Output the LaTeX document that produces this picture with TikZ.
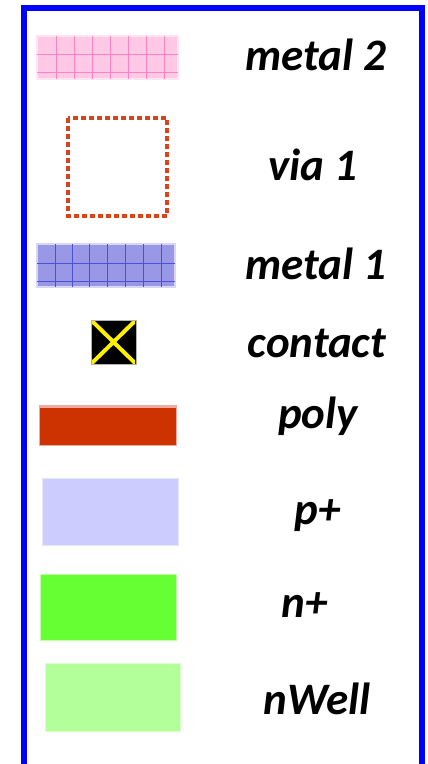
\documentclass[tikz,border=0pt]{standalone}
\usepackage{fontspec}
\setmainfont{Carlito}
\begin{document}
\begin{tikzpicture}[x=1pt,y=-1pt,
  lbl/.style={font=\fontsize{45}{45}\selectfont\bfseries\itshape, anchor=base, inner sep=0pt, text=black},
  frame/.style={draw=blue, line width=6pt}]
\definecolor{mtwofill}{RGB}{255,200,228}
\definecolor{mtwoline}{RGB}{255,130,195}
\definecolor{mtwoedge}{RGB}{255,228,242}
\definecolor{viacol}{RGB}{214,68,24}
\definecolor{mtonefill}{RGB}{152,152,230}
\definecolor{mtoneline}{RGB}{80,80,215}
\definecolor{mtoneedge}{RGB}{215,215,245}
\definecolor{polycol}{RGB}{204,51,0}
\definecolor{polyedge}{RGB}{236,170,160}
\definecolor{pplus}{RGB}{204,204,255}
\definecolor{nplus}{RGB}{102,255,51}
\definecolor{nwell}{RGB}{179,255,153}
\definecolor{yel}{RGB}{255,240,0}
\useasboundingbox (0,0) rectangle (428,764);
% frame (open at bottom)
\draw[frame] (24,764) -- (24,8) -- (422,8) -- (422,764);
% metal 2
\fill[mtwofill, draw=mtwoedge, line width=1.5pt] (37,36) rectangle (178,79);
\begin{scope}
\clip (37,36) rectangle (178,79);
\foreach \x in {56,74,92,110,128,146,164} \draw[mtwoline, line width=1pt] (\x,36) -- (\x,79);
\foreach \y in {54,72} \draw[mtwoline, line width=1pt] (37,\y) -- (178,\y);
\end{scope}
\node[lbl] (m2) at (316,70) {metal 2};
% via 1
\draw[viacol, line width=3.5pt, dash pattern=on 5pt off 3pt] (68,118) rectangle (167,216);
\node[lbl] (v1) at (313,180) {via 1};
% metal 1
\fill[mtonefill, draw=mtoneedge, line width=1.5pt] (37,244) rectangle (175,287);
\begin{scope}
\clip (37,244) rectangle (175,287);
\foreach \x in {55,72,89,107,125,143,161} \draw[mtoneline, line width=1pt] (\x,244) -- (\x,287);
\foreach \y in {263,281} \draw[mtoneline, line width=1pt] (37,\y) -- (175,\y);
\end{scope}
\node[lbl] (m1) at (316,279) {metal 1};
% contact
\fill[black, draw=gray!60, line width=1pt] (91,320) rectangle (136,364);
\begin{scope}
\clip (92,321) rectangle (135,363);
\draw[yel, line width=4pt] (91,320) -- (136,364) (136,320) -- (91,364);
\end{scope}
\node[lbl] (ct) at (317,357) {contact};
% poly
\fill[polyedge] (39,405) rectangle (177,446);
\fill[polycol] (40,408) rectangle (176,445);
\node[lbl] (po) at (318,428) {poly};
% p+
\fill[pplus, draw=pplus!50, line width=1pt] (42,478) rectangle (178,545);
\node[lbl] (pp) at (318,524) {p+};
% n+
\fill[nplus, draw=nplus!40, line width=1pt] (40,574) rectangle (176,640);
\node[lbl] (np) at (305,617) {n+};
% nWell
\fill[nwell, draw=nwell!50, line width=1pt] (45,663) rectangle (180,731);
\node[lbl] (nw) at (317,714) {nWell};
\end{tikzpicture}
\end{document}
